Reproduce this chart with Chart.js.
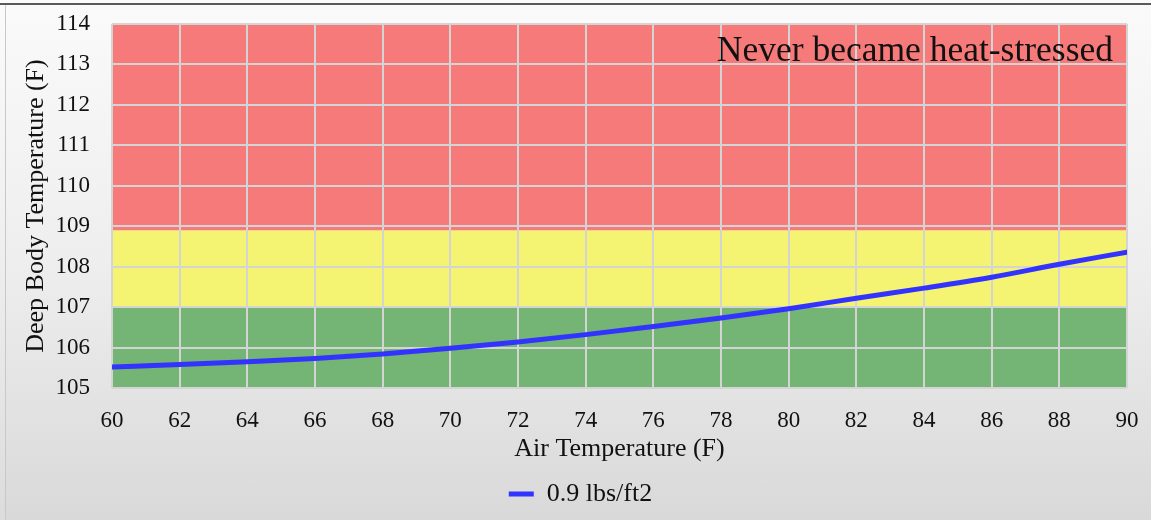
<!DOCTYPE html>
<html>
<head>
<meta charset="utf-8">
<script src="https://cdn.jsdelivr.net/npm/chart.js@4/dist/chart.umd.min.js"></script>
<style>
  html, body { margin: 0; padding: 0; }
  body { width: 1151px; height: 520px; overflow: hidden;
         background: linear-gradient(to bottom, #fbfbfb 0%, #eeeeee 50%, #dcdcdc 100%); }
  #topRule { position: absolute; left: 0; top: 3px; width: 1151px; height: 2px; background: #5a5a5a; }
  #panel {
    position: absolute; left: 5px; top: 5px; width: 1146px; height: 515px;
    border-left: 1px solid #c8c8c8; box-sizing: border-box;
    background: linear-gradient(to bottom, #fafafa 0%, #eeeeee 50%, #d9d9d9 100%);
  }
  #wrap { position: absolute; left: 0; top: 0; width: 1151px; height: 520px; }
</style>
</head>
<body>
<div id="topRule"></div>
<div id="panel"></div>
<div id="wrap"><canvas id="chart" width="1151" height="520"></canvas></div>
<script>
// Air temperature (F) and resulting deep body temperature (F)
const airTemps = [60, 62, 64, 66, 68, 70, 72, 74, 76, 78, 80, 82, 84, 86, 88, 90];
const bodyTemps = [105.52, 105.58, 105.65, 105.73, 105.84, 105.98, 106.14, 106.32,
                   106.52, 106.73, 106.96, 107.22, 107.47, 107.74, 108.06, 108.36];
const seriesLabel = '0.9 lbs/ft2';

// Stress zones on the body-temperature axis
const zoneLows = [105, 107, 108.9];
const zoneHighs = [107, 108.9, 114];
const zoneColors = ['#74b474', '#f4f472', '#f77a7a'];

const noteText = 'Never became heat-stressed';
const xTitle = 'Air Temperature (F)';
const yTitle = 'Deep Body Temperature (F)';

const serif = "'Liberation Serif', 'DejaVu Serif', serif";

const zonesPlugin = {
  id: 'zones',
  beforeDraw(chart) {
    const { ctx, chartArea, scales } = chart;
    ctx.save();
    for (let i = 0; i < zoneLows.length; i++) {
      const yTop = scales.y.getPixelForValue(zoneHighs[i]);
      const yBot = scales.y.getPixelForValue(zoneLows[i]);
      ctx.fillStyle = zoneColors[i];
      ctx.fillRect(chartArea.left, yTop, chartArea.right - chartArea.left, yBot - yTop);
    }
    ctx.restore();
  },
  afterDatasetsDraw(chart) {
    const { ctx, chartArea } = chart;
    ctx.save();
    ctx.font = "35.5px " + serif;
    ctx.fillStyle = '#111111';
    ctx.textAlign = 'right';
    ctx.textBaseline = 'alphabetic';
    ctx.fillText(noteText, chartArea.right - 14, chartArea.top + 37);
    ctx.restore();
  }
};

// Nudge the legend so it sits under the plot, slightly left of centre
const legendShift = {
  id: 'legendShift',
  afterLayout(chart) {
    const lg = chart.legend;
    if (lg) { lg.left += 17; lg.right += 17; }
  }
};

new Chart(document.getElementById('chart'), {
  type: 'line',
  data: {
    datasets: [{
      label: seriesLabel,
      data: airTemps.map((x, i) => ({ x: x, y: bodyTemps[i] })),
      borderColor: '#3333ff',
      backgroundColor: '#3333ff',
      borderWidth: 5,
      borderCapStyle: 'round',
      pointRadius: 0,
      pointStyle: 'line',
      cubicInterpolationMode: 'monotone',
      fill: false
    }]
  },
  options: {
    responsive: false,
    animation: false,
    events: [],
    layout: { padding: { top: 24, right: 24, bottom: 3, left: 0 } },
    plugins: {
      tooltip: { enabled: false },
      legend: {
        position: 'bottom',
        labels: {
          usePointStyle: true,
          pointStyleWidth: 25,
          padding: 10,
          color: '#111111',
          font: { family: serif, size: 26 }
        }
      }
    },
    scales: {
      x: {
        type: 'linear',
        min: 60, max: 90,
        afterFit(scale) { scale.height = 83; scale.paddingLeft = 0; scale.paddingRight = 0; },
        ticks: { stepSize: 2, padding: 19, color: '#111111', font: { family: serif, size: 23 } },
        grid: { color: '#d4d4d4', lineWidth: 2, drawTicks: false },
        border: { display: false },
        title: { display: true, text: xTitle, color: '#111111',
                 font: { family: serif, size: 26 }, padding: { top: 0, bottom: 6 } }
      },
      y: {
        min: 105, max: 114,
        afterFit(scale) { scale.width = 112; scale.paddingTop = 0; scale.paddingBottom = 0; },
        ticks: { stepSize: 1, padding: 22, color: '#111111', font: { family: serif, size: 23 } },
        grid: { color: '#d4d4d4', lineWidth: 2, drawTicks: false },
        border: { display: false },
        title: { display: true, text: yTitle, color: '#111111',
                 font: { family: serif, size: 26 }, padding: { top: 21, bottom: 0 } }
      }
    }
  },
  plugins: [zonesPlugin, legendShift]
});
</script>
</body>
</html>
